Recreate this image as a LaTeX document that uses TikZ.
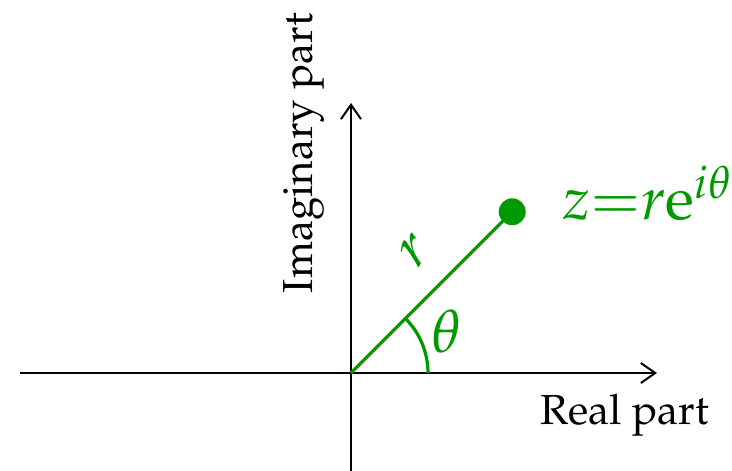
\documentclass[tikz,border=0pt]{standalone}
\usepackage[T1]{fontenc}
\usepackage{mathpazo}
\usepackage{tikz}
\usetikzlibrary{positioning,arrows.meta}

\definecolor{polargreen}{RGB}{0,153,0}

\begin{document}
\begin{tikzpicture}[
  x=0.25pt, y=0.25pt,
  >={Straight Barb[length=3.6pt,width=5pt]},
  axis/.style={->, line width=0.5pt, black},
  axislabel/.style={font=\fontsize{10.5}{12}\selectfont, inner sep=0pt},
  radius line/.style={line width=0.8pt, polargreen},
  anglearc/.style={line width=0.8pt, polargreen},
  greenlabel/.style={polargreen, inner sep=0pt, font=\fontsize{15}{18}\selectfont}
]
\useasboundingbox (-351,-98) rectangle (381,373);

% ---------- AXES ----------
\coordinate (O)     at (0,0);
\coordinate (xmin)  at (-331,0);
\coordinate (xmax)  at (306,0);
\coordinate (ymin)  at (0,-98);
\coordinate (ymax)  at (0,270);

\draw[axis] (xmin) -- (xmax);
\draw[axis] (ymin) -- (ymax);

\node[axislabel, anchor=base west] (real) at (189,-52) {Real part};
\node[axislabel, rotate=90, anchor=base] (imag) at (-38,220) {Imaginary part};

% ---------- POINT z ----------
\coordinate (z) at (45:228);
\draw[radius line] (O) -- (z);
\fill[polargreen] (z) circle[radius=13.5];

\draw[anglearc] (77,0) arc[start angle=0, end angle=45, radius=77];

\node[greenlabel] (theta) at (96,42) {$\theta$};
\node[greenlabel, rotate=45] (r) at (64,122) {$r$};
\node[greenlabel, anchor=base west] (zlabel) at (211,153) {$z{=}r\mathrm{e}^{i\theta}$};

\end{tikzpicture}
\end{document}
